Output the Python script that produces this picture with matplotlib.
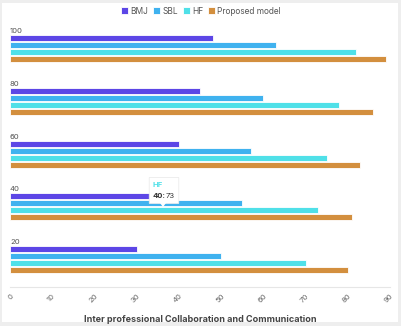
import matplotlib
matplotlib.use("Agg")
import matplotlib.pyplot as plt
from matplotlib.patches import FancyBboxPatch, Rectangle, Polygon
import numpy as np

plt.rcParams['font.family'] = ['Inter', 'DejaVu Sans']

categories = ["100", "80", "60", "40", "20"]
series_names = ["BMJ", "SBL", "HF", "Proposed model"]
bmj = [48, 45, 40, 35, 30]
sbl = [63, 60, 57, 55, 50]
hf = [82, 78, 75, 73, 70]
proposed = [89, 86, 83, 81, 80]
colors = ["#5c46e6", "#3fb2ef", "#4fe0e8", "#d38f3e"]
xticks = [0, 10, 20, 30, 40, 50, 60, 70, 80, 90]

W, H = 402, 326
fig = plt.figure(figsize=(W/100, H/100), dpi=100)
fig.patch.set_facecolor("white")
# outer gray frame
fig.add_artist(Rectangle((0, 0), 1, 1, transform=fig.transFigure, facecolor="#eeeeee", edgecolor="none", zorder=-10))
fig.add_artist(Rectangle((2/W, 4/H), (398-2)/W, (323-4)/H, transform=fig.transFigure,
                         facecolor="white", edgecolor="none", zorder=-9))

ax = fig.add_axes([10/W, 1-287/H, 380/W, (287-28)/H])
ax.set_facecolor("none")

y = np.arange(len(categories))
step = 7/52.8
height = 6/52.8
all_series = [bmj, sbl, hf, proposed]
for i, (vals, c, name) in enumerate(zip(all_series, colors, series_names)):
    offs = (i - 1.5) * step
    ax.barh(y + offs, vals, height=height, color=c, edgecolor="white", linewidth=0.6, label=name, zorder=3)

for yi, cat in zip(y, categories):
    ax.text(0, yi - 1.5*step - height/2 - 0.02, cat, fontsize=5.5, color="#555555",
            ha="left", va="bottom")

ax.set_xlim(0, 90)
ax.set_ylim(4.517, -0.388)
ax.set_yticks([])
ax.set_xticks(xticks)
ax.set_xticklabels([str(t) for t in xticks], rotation=45, fontsize=5.5, color="#666666",
                   ha="right", rotation_mode="anchor")
ax.tick_params(axis="x", length=0, pad=4)
for s in ["top", "right", "left"]:
    ax.spines[s].set_visible(False)
ax.spines["bottom"].set_color("#e6e6e6")
ax.spines["bottom"].set_linewidth(0.8)
ax.set_xlabel("Inter professional Collaboration and Communication", fontsize=6.5,
              fontweight="bold", color="#444444", labelpad=8)

leg = fig.legend(loc="center", bbox_to_anchor=(0.5, 1-11/H), ncol=4, frameon=False,
                 fontsize=6, handlelength=0.8, handleheight=0.8, handletextpad=0.3,
                 columnspacing=0.6, labelcolor="#555555")

# tooltip for HF at 40
tx0, ty0, tw, th = 150/W, 1-203/H, 28/W, 25/H
fig.add_artist(FancyBboxPatch((tx0, ty0), tw, th, boxstyle="round,pad=0.002",
                              transform=fig.transFigure, facecolor="white",
                              edgecolor="#e8e8e8", linewidth=0.5, zorder=20))
fig.add_artist(Polygon([(160/W, 1-203/H), (166/W, 1-203/H), (163/W, 1-207/H)],
                       closed=True, transform=fig.transFigure, facecolor="white",
                       edgecolor="none", zorder=21))
fig.text(153/W, 1-185/H, "HF", fontsize=5.5, fontweight="bold", color=colors[2],
         va="center", ha="left", zorder=22)
fig.text(153/W, 1-196/H, "40:", fontsize=5.5, fontweight="bold", color="#333333",
         va="center", ha="left", zorder=22)
fig.text(166/W, 1-196/H, "73", fontsize=5.5, color="#333333", va="center", ha="left", zorder=22)

fig.savefig("out.png", dpi=100)
